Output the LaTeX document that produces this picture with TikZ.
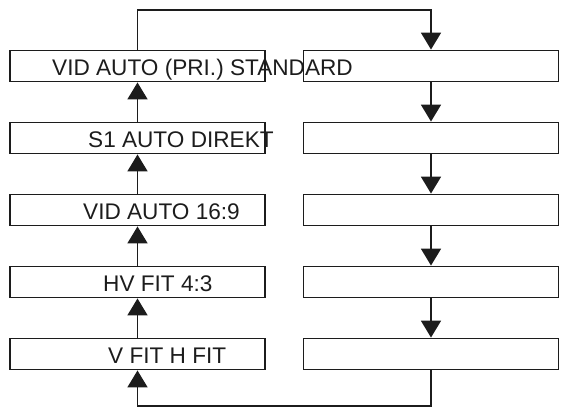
\documentclass[tikz,border=0pt]{standalone}
\usepackage{fontspec}
\setmainfont{Liberation Sans}
\usetikzlibrary{arrows.meta}
\definecolor{ink}{HTML}{1c1c1c}

\begin{document}
\begin{tikzpicture}[x=1pt, y=-1pt, font=\fontsize{22.6}{24}\selectfont,
  modebox/.style={rectangle, draw=ink, line width=1.9pt, minimum width=255pt, minimum height=31pt, inner sep=0pt},
  modetext/.style={anchor=base west, inner sep=0pt, text=ink},
  flow/.style={-{Triangle[length=17pt, width=20pt]}, line width=1.9pt, draw=ink}
]
  \useasboundingbox (0,0) rectangle (565,410);

  % left column
  \node[modebox] (l1) at (137.5,66) {};
  \node[modebox] (l2) at (137.5,138) {};
  \node[modebox] (l3) at (137.5,210) {};
  \node[modebox] (l4) at (137.5,282) {};
  \node[modebox] (l5) at (137.5,354) {};

  % right column
  \node[modebox] (r1) at (431,66) {};
  \node[modebox] (r2) at (431,138) {};
  \node[modebox] (r3) at (431,210) {};
  \node[modebox] (r4) at (431,282) {};
  \node[modebox] (r5) at (431,354) {};

  % labels
  \node[modetext] (t1) at (52,75) {VID AUTO (PRI.) STANDARD};
  \node[modetext] (t2) at (88,147) {S1 AUTO DIREKT};
  \node[modetext] (t3) at (83,219) {VID AUTO 16:9};
  \node[modetext] (t4) at (103,291) {HV FIT 4:3};
  \node[modetext] (t5) at (108,363) {V FIT H FIT};

  \coordinate (top) at (0,10);
  \coordinate (bot) at (0,406);

  \foreach \a/\b in {l5/l4, l4/l3, l3/l2, l2/l1} {
    \draw[flow] (\a.north) -- (\b.south);
  }
  \foreach \a/\b in {r1/r2, r2/r3, r3/r4, r4/r5} {
    \draw[flow] (\a.south) -- (\b.north);
  }
  \draw[flow] (l1.north) -- (l1.north |- top) -| (r1.north);
  \draw[flow] (r5.south) -- (r5.south |- bot) -| (l5.south);
\end{tikzpicture}
\end{document}
